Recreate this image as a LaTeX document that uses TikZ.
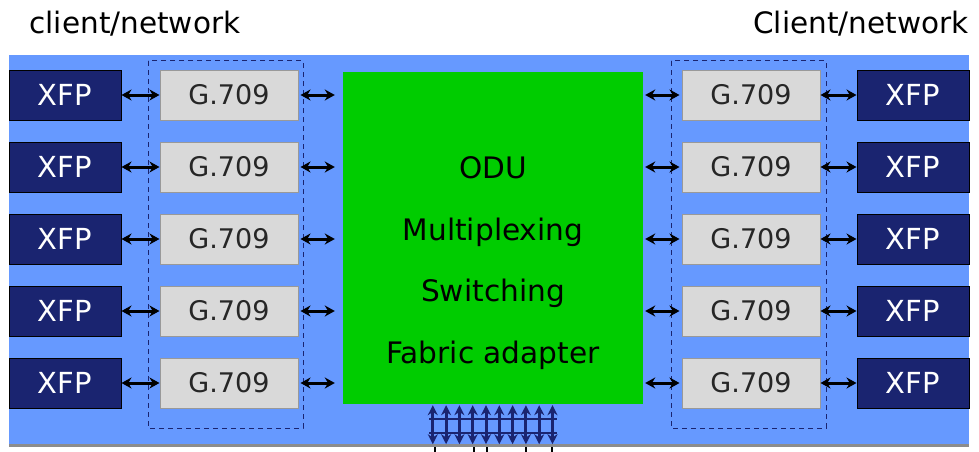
\documentclass[tikz,border=0pt]{standalone}
\usepackage{fontspec}
\setmainfont{DejaVu Sans}
\usepackage{tikz}
\usetikzlibrary{arrows.meta}
\definecolor{bgblue}{RGB}{102,153,255}
\definecolor{navy}{RGB}{26,36,112}
\definecolor{cardgray}{RGB}{217,217,217}
\definecolor{fabgreen}{RGB}{0,204,0}

\begin{document}
\begin{tikzpicture}[x=1pt,y=-1pt,
  xfp/.style={draw=black,line width=1pt,fill=navy,text=white,minimum width=112pt,
    minimum height=50pt,inner sep=0pt,font=\fontsize{29}{32}\selectfont},
  card/.style={draw=black!40,line width=1pt,fill=cardgray,text=black!85,minimum width=138pt,
    minimum height=50pt,inner sep=0pt,font=\fontsize{27}{32}\selectfont},
  link/.style={{Stealth[length=10pt,width=11pt]}-{Stealth[length=10pt,width=11pt]},line width=3pt,black},
  bus/.style={{Stealth[length=10pt,width=10pt]}-{Stealth[length=10pt,width=10pt]},line width=3pt,navy}]
  \useasboundingbox (0,0) rectangle (979,452);
  \fill[bgblue] (9,55) rectangle (969,445);
  \draw[black!45,line width=3pt] (9,445.5) -- (969,445.5);
  \node[anchor=base west,font=\fontsize{29.5}{34}\selectfont] (lblL) at (26,34) {client/network};
  \node[anchor=base east,font=\fontsize{29.5}{34}\selectfont] (lblR) at (972,34) {Client/network};
  \draw[navy,dashed,dash pattern=on 5pt off 4pt,line width=1pt] (148,61) rectangle (303,428);
  \draw[navy,dashed,dash pattern=on 5pt off 4pt,line width=1pt] (671,61) rectangle (826,428);
  \node[fill=fabgreen,minimum width=300pt,minimum height=332pt,inner sep=0pt] (fab) at (493,238) {};
  \node[align=center,font=\fontsize{29.6}{61.5}\selectfont] (fabtxt) at (493,263)
    {ODU\\Multiplexing\\Switching\\Fabric adapter};
  \foreach \i in {1,...,5} {
    \node[xfp] (xl\i) at (65,{95+72*(\i-1)}) {XFP};
    \node[card] (gl\i) at (229,{95+72*(\i-1)}) {G.709};
    \node[card] (gr\i) at (751,{95+72*(\i-1)}) {G.709};
    \node[xfp] (xr\i) at (913,{95+72*(\i-1)}) {XFP};
    \draw[link] (xl\i.east) -- (gl\i.west);
    \draw[link,shorten >=8pt,shorten <=2pt] (gl\i.east) -- (gl\i.east -| fab.west);
    \draw[link,shorten <=2pt,shorten >=2pt] (gr\i.west -| fab.east) -- (gr\i.west);
    \draw[link] (gr\i.east) -- (xr\i.west);
  }
  \foreach \k in {0,...,9}
    \draw[bus] (fab.south west) ++({90+13.3*\k},1) -- ++(0,39);
  \draw[navy,line width=2pt] (429,419) -- (557,419) (429,433) -- (557,433);
  \foreach \x in {435,474,487,526,552}
    \draw[black,line width=2pt] (\x,447) -- (\x,452);
\end{tikzpicture}
\end{document}
